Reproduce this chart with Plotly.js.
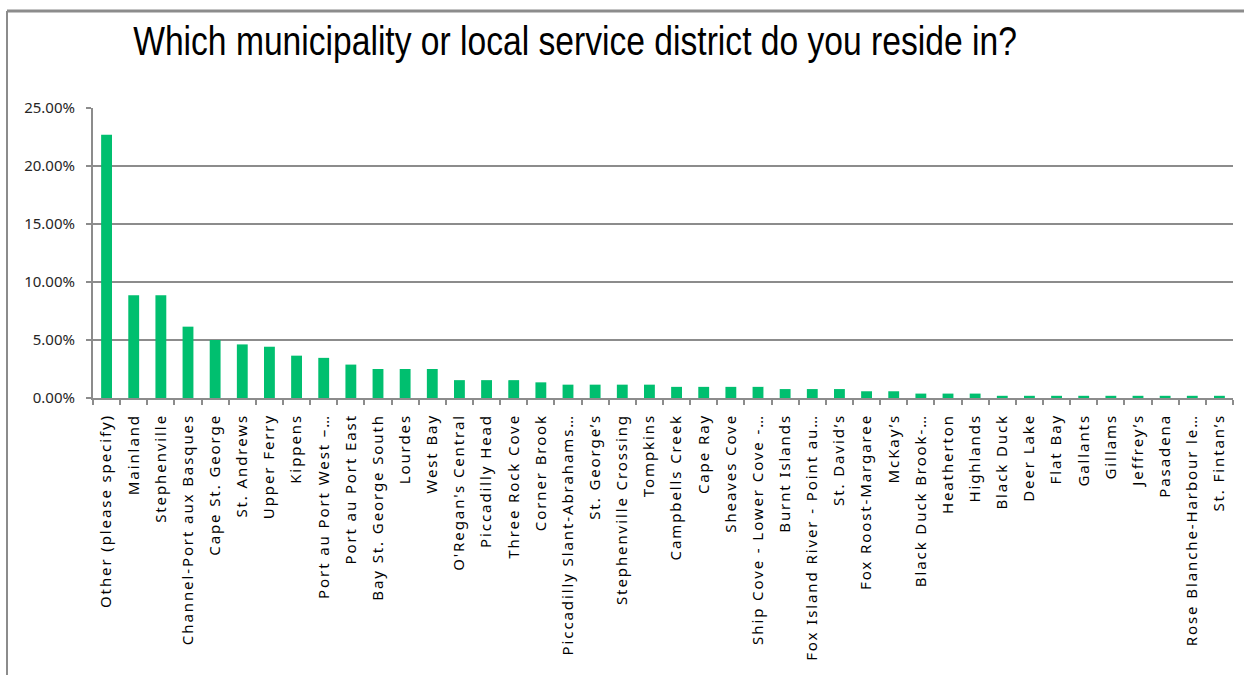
<!DOCTYPE html>
<html>
<head>
<meta charset="utf-8">
<script src="https://cdn.plot.ly/plotly-3.0.1.min.js"></script>
<style>
html,body{margin:0;padding:0;background:#fff;}
#chart{width:1244px;height:675px;}
#chart .xtick text{letter-spacing:1.9px;}
</style>
</head>
<body>
<div id="chart"></div>
<script>
const categories = [
  "Other (please specify)", "Mainland", "Stephenville", "Channel-Port aux Basques",
  "Cape St. George", "St. Andrews", "Upper Ferry", "Kippens", "Port au Port West –…",
  "Port au Port East", "Bay St. George South", "Lourdes", "West Bay", "O'Regan's Central",
  "Piccadilly Head", "Three Rock Cove", "Corner Brook", "Piccadilly Slant-Abrahams…",
  "St. George’s", "Stephenville Crossing", "Tompkins", "Campbells Creek", "Cape Ray",
  "Sheaves Cove", "Ship Cove - Lower Cove -…", "Burnt Islands", "Fox Island River - Point au…",
  "St. David’s", "Fox Roost-Margaree", "McKay’s", "Black Duck Brook-…", "Heatherton",
  "Highlands", "Black Duck", "Deer Lake", "Flat Bay", "Gallants", "Gillams", "Jeffrey’s",
  "Pasadena", "Rose Blanche-Harbour le…", "St. Fintan’s"
];
const percentages = [
  22.69, 8.85, 8.85, 6.15, 5.00, 4.62, 4.42, 3.65, 3.46,
  2.88, 2.50, 2.50, 2.50, 1.54,
  1.54, 1.54, 1.35, 1.15,
  1.15, 1.15, 1.15, 0.96, 0.96,
  0.96, 0.96, 0.77, 0.77,
  0.77, 0.58, 0.58, 0.38, 0.38,
  0.38, 0.19, 0.19, 0.19, 0.19, 0.19, 0.19,
  0.19, 0.19, 0.19
];
const yTickValues = [0, 5, 10, 15, 20, 25];
const yTickLabels = ["0.00%", "5.00%", "10.00%", "15.00%", "20.00%", "25.00%"];
const titleText = 'Which municipality or local service district do you reside in?';

const W = 1244, H = 675, ML = 93, MR = 11, MT = 108, MB = 277;
const pw = W - ML - MR, ph = H - MT - MB;
const px2x = p => (p - ML) / pw;
const py2y = p => (H - MB - p) / ph;

const trace = {
  type: 'bar',
  x: categories,
  y: percentages,
  marker: {color: '#00BF6F', line: {width: 0}},
  hoverinfo: 'x+y'
};

const layout = {
  width: W, height: H,
  margin: {l: ML, r: MR, t: MT, b: MB, pad: 0},
  paper_bgcolor: '#ffffff',
  plot_bgcolor: '#ffffff',
  bargap: 0.6,
  showlegend: false,
  title: {
    text: titleText,
    font: {family: '"Liberation Sans", Arial, sans-serif', size: 40, color: '#000000'},
    xref: 'container', yref: 'container',
    x: 575 / W, xanchor: 'center',
    y: 1 - 41 / H, yanchor: 'middle'
  },
  xaxis: {
    type: 'category',
    tickangle: -90,
    tickson: 'boundaries',
    ticks: 'outside', ticklen: 5, tickwidth: 2, tickcolor: '#8c8c8c',
    ticklabelstandoff: 8,
    showline: true, linecolor: '#8c8c8c', linewidth: 2,
    showgrid: false,
    tickfont: {family: '"Noto Sans", "Open Sans", sans-serif', size: 15, color: '#000000'},
    automargin: false
  },
  yaxis: {
    range: [0, 25],
    tickmode: 'array',
    tickvals: yTickValues,
    ticktext: yTickLabels,
    ticks: 'outside', ticklen: 5, tickwidth: 2, tickcolor: '#8c8c8c',
    ticklabelstandoff: 8,
    showline: true, linecolor: '#8c8c8c', linewidth: 2,
    showgrid: true, gridcolor: '#8c8c8c', gridwidth: 2,
    zeroline: false,
    tickfont: {family: '"Noto Sans", "Open Sans", sans-serif', size: 15, color: '#262626'},
    automargin: false
  },
  shapes: [
    {type: 'line', xref: 'paper', yref: 'paper', x0: px2x(7), x1: px2x(1244), y0: py2y(11), y1: py2y(11), line: {color: '#8c8c8c', width: 3}},
    {type: 'line', xref: 'paper', yref: 'paper', x0: px2x(7), x1: px2x(7), y0: py2y(11), y1: py2y(675), line: {color: '#8c8c8c', width: 2}}
  ]
};

Plotly.newPlot('chart', [trace], layout, {displayModeBar: false, staticPlot: true}).then(function (gd) {
  // Condense the title horizontally, like the narrow title face of the original.
  const t = gd.querySelector('.gtitle');
  if (t) {
    const bb = t.getBBox();
    const targetWidth = 884;
    const s = targetWidth / bb.width;
    const cx = bb.x + bb.width / 2;
    const prev = t.getAttribute('transform') || '';
    t.setAttribute('transform', prev + ' translate(' + cx + ',0) scale(' + s + ',1) translate(' + (-cx) + ',0)');
  }
});
</script>
</body>
</html>
